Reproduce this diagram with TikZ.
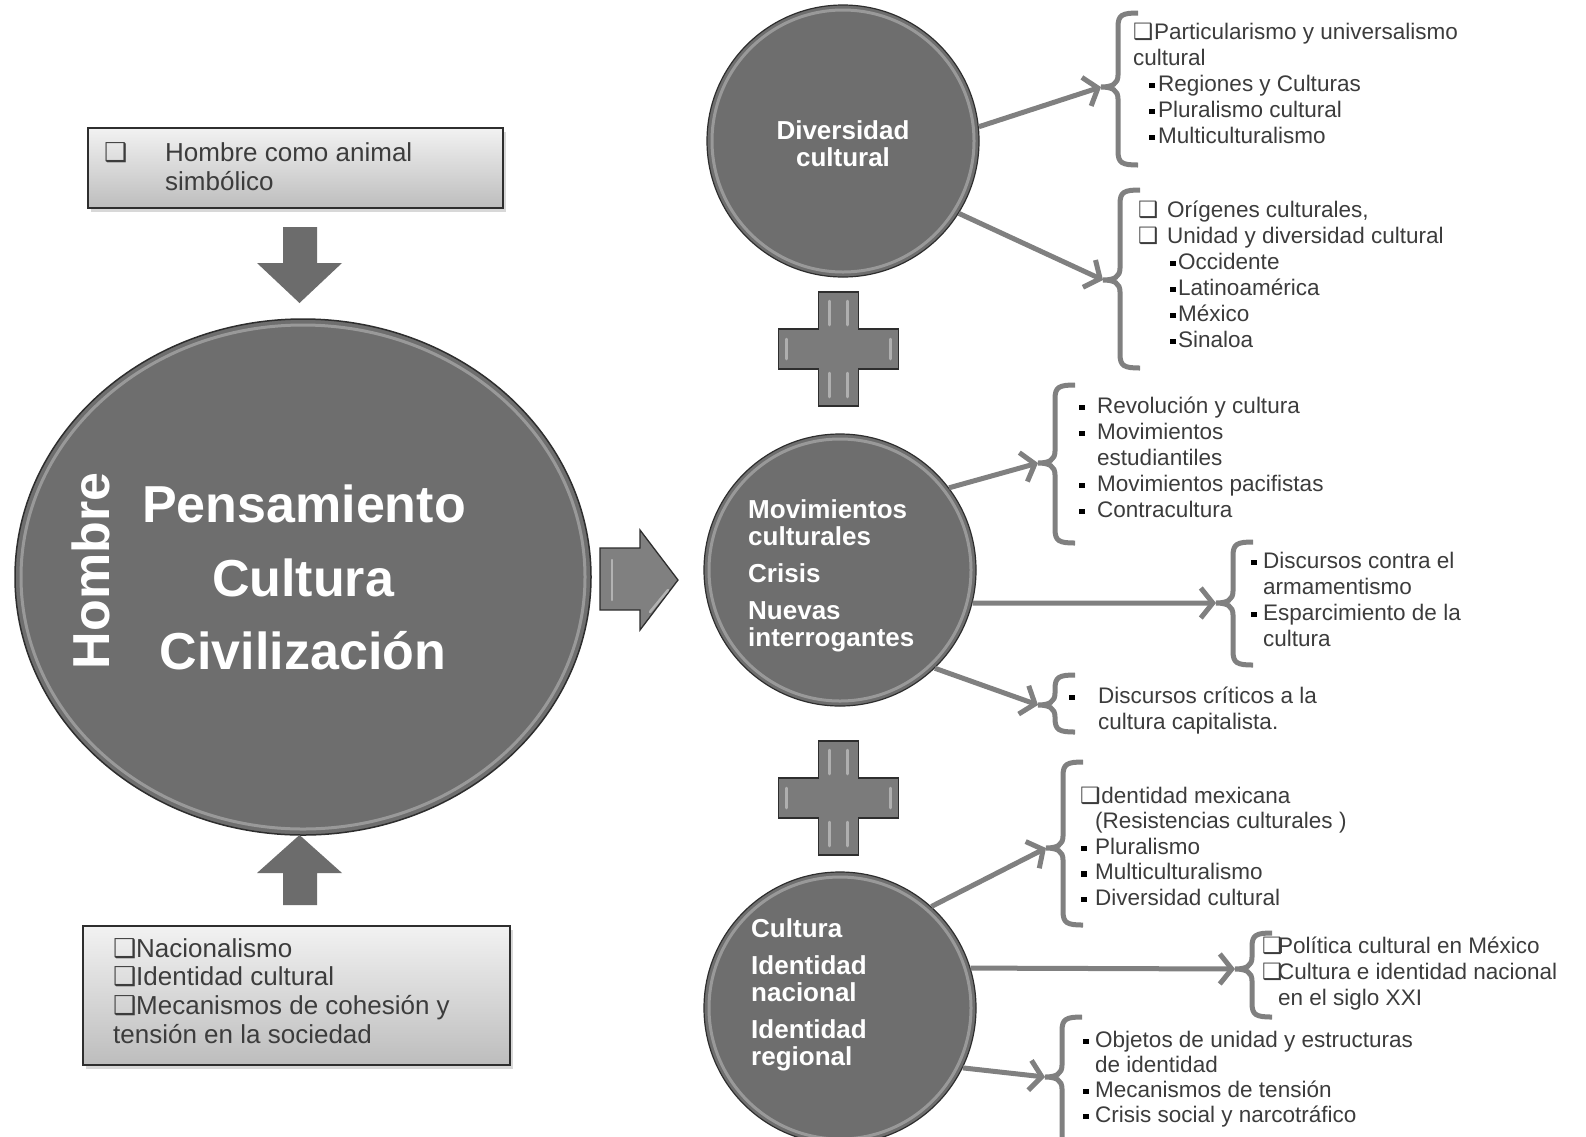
\documentclass[tikz,border=0pt]{standalone}
\usepackage{fontspec}
\setmainfont{Liberation Sans}
\newfontfamily\cbfont{DejaVu Sans}
\usetikzlibrary{shapes.geometric,arrows.meta,shadows}
\definecolor{circfill}{HTML}{6E6E6E}
\definecolor{linegray}{HTML}{808080}
\definecolor{txtgray}{HTML}{3C3C3C}
\definecolor{edgegray}{HTML}{2E2E2E}
\definecolor{boxtop}{HTML}{F2F2F2}
\definecolor{boxbot}{HTML}{BDBDBD}
\definecolor{arrfill}{HTML}{6C6C6C}
\definecolor{plusfill}{HTML}{7B7B7B}
\newcommand\cb[1]{\makebox[#1][l]{{\cbfont ❑}}}
\newcommand\bl[1]{\makebox[#1][l]{\hspace{1pt}\textcolor{black}{\rule[0.13em]{0.25em}{0.25em}}}}
% bracket: #1 name of nub, #2 x, #3 top, #4 mid, #5 bottom
\newcommand\brk[5]{%
  \coordinate (#1) at ({#2-17},#4);
  \draw[brace] ({#2+20},#3) .. controls ({#2+4},#3) and (#2,{#3+2}) .. (#2,{#3+14})
    -- (#2,{#4-12}) .. controls (#2,{#4-3}) and ({#2-6},#4) .. (#1)
    .. controls ({#2-6},#4) and (#2,{#4+3}) .. (#2,{#4+12})
    -- (#2,{#5-14}) .. controls (#2,{#5-2}) and ({#2+4},#5) .. ({#2+20},#5);}
% plus shape centred at #1,#2
\newcommand\plusshape[2]{%
  \draw[plusst] ({#1-20},{#2-57}) -- ({#1+20},{#2-57}) -- ({#1+20},{#2-20}) -- ({#1+60},{#2-20})
    -- ({#1+60},{#2+20}) -- ({#1+20},{#2+20}) -- ({#1+20},{#2+57}) -- ({#1-20},{#2+57})
    -- ({#1-20},{#2+20}) -- ({#1-60},{#2+20}) -- ({#1-60},{#2-20}) -- ({#1-20},{#2-20}) -- cycle;
  \draw[hl] ({#1-9},{#2-48}) -- ({#1-9},{#2-24});
  \draw[hl] ({#1+9},{#2-48}) -- ({#1+9},{#2-24});
  \draw[hl] ({#1-9},{#2+24}) -- ({#1-9},{#2+48});
  \draw[hl] ({#1+9},{#2+24}) -- ({#1+9},{#2+48});
  \draw[hl] ({#1-52},{#2-10}) -- ({#1-52},{#2+10});
  \draw[hl] ({#1+52},{#2-10}) -- ({#1+52},{#2+10});}
\begin{document}
\begin{tikzpicture}[x=1pt,y=-1pt,
  conn/.style={draw=linegray, line width=5pt, -{Straight Barb[length=12pt,width=30pt]}},
  brace/.style={draw=linegray, line width=5pt},
  circ/.style={circle, fill=circfill, draw=edgegray, line width=1.2pt, minimum size=272pt, inner sep=0pt},
  ring/.style={draw=white, draw opacity=0.3, line width=3pt, inner sep=0pt},
  ctext/.style={text=white, font=\bfseries\fontsize{26}{27}\selectfont, inner sep=0pt},
  bigt/.style={text=white, font=\bfseries\fontsize{52}{60}\selectfont, inner sep=0pt},
  lst/.style={font=\fontsize{22.5}{26}\selectfont, text=txtgray, align=left, anchor=north west, inner sep=0pt},
  boxt/.style={font=\fontsize{26}{29}\selectfont, text=txtgray, align=left, inner sep=0pt},
  gbox/.style={draw=edgegray, line width=1.5pt, top color=boxtop, bottom color=boxbot,
    drop shadow={opacity=0.3, shadow xshift=3pt, shadow yshift=-4pt}},
  blockarr/.style={fill=arrfill},
  plusst/.style={fill=plusfill, draw=edgegray, line width=1.3pt},
  hl/.style={draw=white, draw opacity=0.4, line width=2.5pt, line cap=round}
]
\useasboundingbox (0,0) rectangle (1586,1136);
\fill[white] (0,0) rectangle (1586,1136);

% left boxes
\node[gbox, minimum width=415pt, minimum height=80pt] (topbox) at (295.5,168) {};
\node[boxt, anchor=base west] (topcb) at (104,161) {{\cbfont ❑}};
\node[boxt, anchor=north west] (toptext) at (165,140.7) {\strut Hombre como animal\\simbólico};

\node[gbox, minimum width=427pt, minimum height=139pt] (botbox) at (296.5,995.5) {};
\node[boxt, anchor=north west, font=\fontsize{26}{28.7}\selectfont] (bottext) at (113,936.9)
  {\strut\cb{23pt}Nacionalismo\\\cb{23pt}Identidad cultural\\\cb{23pt}Mecanismos de cohesión y\\tensión en la sociedad};

% main ellipse
\node[ellipse, fill=circfill, draw=edgegray, line width=1.5pt, minimum width=576pt, minimum height=516pt, inner sep=0pt] (main) at (303,577) {};
\node[ellipse, ring, minimum width=564pt, minimum height=504pt] (mainring) at (303,577) {};
\node[bigt, rotate=90] (homb) at (91,571) {Hombre};
\node[bigt, anchor=base] (pens) at (304,522) {Pensamiento};
\node[bigt, anchor=base] (cult) at (303,596) {Cultura};
\node[bigt, anchor=base] (civ) at (303,669) {Civilización};

% block arrows
\fill[blockarr] (283,227) -- (317,227) -- (317,263) -- (342,263) -- (299.5,303) -- (257,263) -- (283,263) -- cycle;
\fill[blockarr] (299.5,835) -- (342,873) -- (317,873) -- (317,905) -- (283,905) -- (283,873) -- (257,873) -- cycle;
\draw[fill=linegray, draw=edgegray, line width=1.3pt] (600,548) -- (640,548) -- (640,530) -- (678,580) -- (640,630) -- (640,610) -- (600,610) -- cycle;
\draw[hl] (612,560) -- (612,600);
\draw[hl] (650,612) -- (668,590);

% plus signs
\plusshape{838.5}{349}
\plusshape{838.5}{798}

% circles
\node[circ] (div) at (843,141) {};
\node[circle, ring, minimum size=262pt] (divring) at (843,141) {};
\node[ctext, align=center] (divt) at (843,144) {Diversidad\\cultural};

\node[circ] (mov) at (840,570) {};
\node[circle, ring, minimum size=262pt] (movring) at (840,570) {};
\node[ctext, align=left, anchor=north west] (movt) at (748,499.6)
  {\strut Movimientos\\culturales\\[10pt]Crisis\\[10pt]Nuevas\\interrogantes};

\node[circ] (cul) at (840,1008) {};
\node[circle, ring, minimum size=262pt] (culring) at (840,1008) {};
\node[ctext, align=left, anchor=north west] (cult2) at (751,918.6)
  {\strut Cultura\\[10pt]Identidad\\nacional\\[10pt]Identidad\\regional};

% brackets
\brk{b1}{1118}{13}{87}{165}
\brk{b2}{1120}{190}{280}{368}
\brk{b3}{1055}{385}{463}{543}
\brk{b4}{1233}{542}{603}{665}
\brk{b5}{1055}{675}{705}{732}
\brk{b6}{1063}{762}{848}{925}
\brk{b7}{1252}{933}{969}{1017}
\brk{b8}{1062}{1017}{1077}{1150}

% connectors
\draw[conn] (div.6) -- (b1);
\draw[conn] (div.-32) -- (b2);
\draw[conn] (mov.37) -- (b3);
\draw[conn] (mov.-14) -- (b4);
\draw[conn] (mov.-46) -- (b5);
\draw[conn] (cul.48) -- (b6);
\draw[conn] (cul.17) -- (b7);
\draw[conn] (cul.-26) -- (b8);

% lists
\node[lst] (l1) at (1133,20.8) {\strut\cb{21pt}Particularismo y universalismo\\cultural\\
  \hspace*{15pt}\bl{10pt}Regiones y Culturas\\\hspace*{15pt}\bl{10pt}Pluralismo cultural\\\hspace*{15pt}\bl{10pt}Multiculturalismo};
\node[lst] (l2) at (1138,198.8) {\strut\cb{29pt}Orígenes culturales,\\\cb{29pt}Unidad y diversidad cultural\\
  \hspace*{31pt}\bl{9pt}Occidente\\\hspace*{31pt}\bl{9pt}Latinoamérica\\\hspace*{31pt}\bl{9pt}México\\\hspace*{31pt}\bl{9pt}Sinaloa};
\node[lst] (l3) at (1078,394.8) {\strut\bl{19pt}Revolución y cultura\\\bl{19pt}Movimientos\\\hspace*{19pt}estudiantiles\\
  \bl{19pt}Movimientos pacifistas\\\bl{19pt}Contracultura};
\node[lst] (l4) at (1250,549.8) {\strut\bl{13pt}Discursos contra el\\\hspace*{13pt}armamentismo\\\bl{13pt}Esparcimiento de la\\\hspace*{13pt}cultura};
\node[lst] (l5) at (1068,684.8) {\strut\bl{30pt}Discursos críticos a la\\\hspace*{30pt}cultura capitalista.};
\node[lst, font=\fontsize{22.5}{25.5}\selectfont] (l6) at (1080,785.2) {\strut\cb{15pt}Identidad mexicana\\\hspace*{15pt}(Resistencias culturales )\\
  \bl{15pt}Pluralismo\\\bl{15pt}Multiculturalismo\\\bl{15pt}Diversidad cultural};
\node[lst] (l7) at (1262,934.8) {\strut\cb{16pt}Política cultural en México\\\cb{16pt}Cultura e identidad nacional\\\hspace*{16pt}en el siglo XXI};
\node[lst, font=\fontsize{22.5}{25}\selectfont] (l8) at (1082,1029.5) {\strut\bl{13pt}Objetos de unidad y estructuras\\\hspace*{13pt}de identidad\\
  \bl{13pt}Mecanismos de tensión\\\bl{13pt}Crisis social y narcotráfico};
\end{tikzpicture}
\end{document}
